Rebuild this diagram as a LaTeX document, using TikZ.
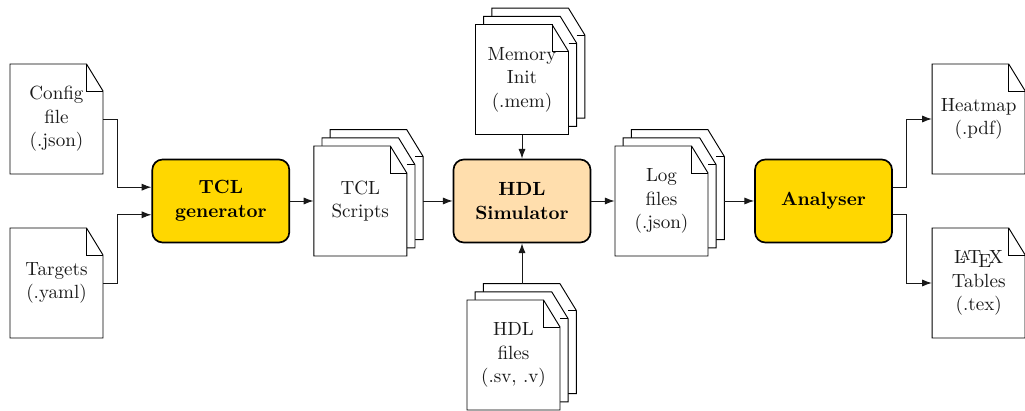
\documentclass[tikz,border=0pt]{standalone}
\usetikzlibrary{calc,arrows.meta}
\newlength{\pxu}
\setlength{\pxu}{0.532pt}
\definecolor{boxgold}{HTML}{FFD700}
\definecolor{boxpeach}{HTML}{FFDEAD}
\tikzset{
  docsheet/.style={draw=black,fill=white,line width=0.5pt,line join=miter},
  foldline/.style={draw=black,line width=0.5pt},
  doclabel/.style={inner sep=0pt,minimum width=93\pxu,minimum height=110\pxu,align=center,text=black!90,font=\fontsize{10.15}{12.5}\selectfont},
  procbox/.style={draw=black,line width=0.9pt,rounded corners=5.5pt,inner sep=0pt,minimum width=137\pxu,minimum height=83\pxu,align=center,font=\fontsize{10.15}{12.5}\selectfont\bfseries},
  arr/.style={draw=black!90,line width=0.5pt,-{Latex[length=5.2pt,width=3.8pt]}}
}
% one sheet with folded corner, centred on (#1,#2)
\newcommand{\sheet}[2]{%
  \begin{scope}[shift={(#1,#2)}]
    \path[docsheet] (-46.5,-55) -- (30,-55) -- (46.5,-28) -- (46.5,55) -- (-46.5,55) -- cycle;
    \path[foldline] (30,-55) -- (30,-28) -- (46.5,-28);
  \end{scope}}
% a sheet behind another: only the outer piece of its fold shows
\newcommand{\backsheet}[2]{%
  \begin{scope}[shift={(#1,#2)}]
    \path[docsheet] (-46.5,-55) -- (30,-55) -- (46.5,-28) -- (46.5,55) -- (-46.5,55) -- cycle;
    \path[foldline] (38.3,-28) -- (46.5,-28);
  \end{scope}}
% stack of three sheets
\newcommand{\stack}[2]{%
  \backsheet{#1+16.4}{#2-16.4}%
  \backsheet{#1+8.2}{#2-8.2}%
  \sheet{#1}{#2}}
\begin{document}
\begin{tikzpicture}[x=0.532pt,y=-0.532pt]
\useasboundingbox (0,0) rectangle (1025,411);
% single documents
\sheet{56.5}{119}
\node[doclabel] (cfg) at (56.5,119) {Config\\file\\(.json)};
\sheet{56.5}{283}
\node[doclabel] (tgt) at (56.5,283) {Targets\\(.yaml)};
\sheet{978.7}{119}
\node[doclabel] (heat) at (978.7,119) {Heatmap\\(.pdf)};
\sheet{978.7}{283}
\node[doclabel] (tab) at (978.7,283) {\LaTeX\\Tables\\(.tex)};
% stacks
\stack{360.3}{201}
\node[doclabel] (tcl) at (360.3,201) {TCL\\Scripts};
\coordinate (tclR) at (423.3,201);
\stack{522}{79.5}
\node[doclabel] (mem) at (522,79.5) {Memory\\Init\\(.mem)};
\stack{661.5}{201}
\node[doclabel] (log) at (661.5,201) {Log\\files\\(.json)};
\coordinate (logR) at (724.4,201);
\stack{513.5}{355}
\node[doclabel] (hdl) at (513.5,355) {HDL\\files\\(.sv, .v)};
\coordinate (hdlT) at (522,283.6);
% process boxes
\node[procbox,fill=boxgold] (gen) at (220.8,201) {TCL\\generator};
\node[procbox,fill=boxpeach] (sim) at (522,201) {HDL\\Simulator};
\node[procbox,fill=boxgold] (ana) at (823.5,201) {Analyser};
% connectors
\draw[arr] (cfg.east) -- ++(14,0) |- ($(gen.west)+(0,-13.8)$);
\draw[arr] (tgt.east) -- ++(14,0) |- ($(gen.west)+(0,13.8)$);
\draw[arr] (gen.east) -- (tcl.west);
\draw[arr] (tclR) -- (sim.west);
\draw[arr] (mem.south) -- (sim.north);
\draw[arr] (hdlT) -- (sim.south);
\draw[arr] (sim.east) -- (log.west);
\draw[arr] (logR) -- (ana.west);
\draw[arr] ($(ana.east)+(0,-13.8)$) -- ++(14,0) |- (heat.west);
\draw[arr] ($(ana.east)+(0,13.8)$) -- ++(14,0) |- (tab.west);
\end{tikzpicture}
\end{document}
